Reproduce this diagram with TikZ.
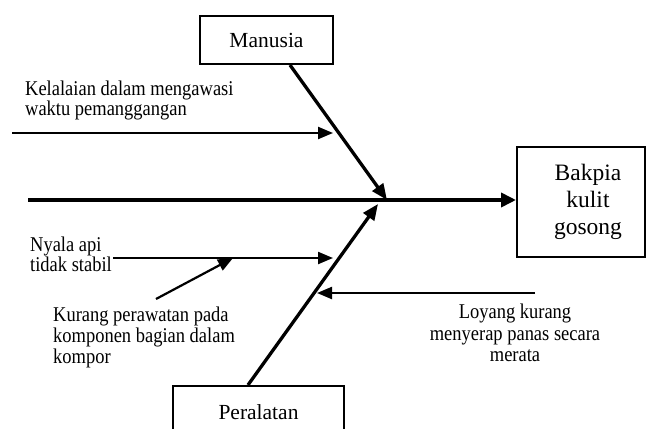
\documentclass[tikz,border=0pt]{standalone}
\usepackage{fontspec}
\setmainfont{Liberation Serif}
\newfontfamily\sempit{Liberation Serif}[FakeStretch=0.88]
\usetikzlibrary{arrows.meta,positioning}

\begin{document}
\begin{tikzpicture}[x=1pt,y=-1pt,
	kotak/.style={draw,line width=2pt,inner sep=0pt},
	tulang/.style={line width=3.3pt,-{Triangle[length=16pt,width=13pt]}},
	sebab/.style={line width=2.2pt,-{Triangle[length=15pt,width=12pt]}},
	teks/.style={inner sep=0pt,align=left}]
			\useasboundingbox (0,0) rectangle (647,428);
			\node[kotak,minimum width=133pt,minimum height=48pt,font=\fontsize{21.5}{24}\selectfont] (manusia) at (266.5,40) {Manusia};
			\node[kotak,minimum width=171pt,minimum height=52pt,font=\fontsize{21.5}{24}\selectfont] (peralatan) at (258.5,412) {Peralatan};
			\node[kotak,minimum width=128pt,minimum height=110pt,align=center,font=\fontsize{23.5}{27}\selectfont] (akibat) at (581,202) {\hspace*{14pt}Bakpia\\\hspace*{14pt}kulit\\\hspace*{14pt}gosong};
			\coordinate (ekor) at (28,200);
			\coordinate (kepala) at (387,200);
			\coordinate (kepalab) at (378,204);
			\draw[line width=3.6pt,-{Triangle[length=15pt,width=14pt]}] (ekor) -- (ekor -| akibat.west);
			\draw[tulang] ([xshift=23.5pt]manusia.south) -- (kepala);
			\draw[tulang] ([xshift=-10.5pt]peralatan.north) -- (kepalab);
			\node[teks,anchor=north west,font=\sempit\fontsize{21}{19}\selectfont] (kelalaian) at (25,81) {Kelalaian dalam mengawasi\\waktu pemanggangan};
			\node[teks,anchor=north west,font=\sempit\fontsize{21}{18.5}\selectfont] (nyala) at (30,237) {Nyala api\\tidak stabil};
			\node[teks,anchor=north west,font=\sempit\fontsize{21}{21}\selectfont] (kurang) at (53,307) {Kurang perawatan pada\\komponen bagian dalam\\kompor};
			\node[teks,anchor=north,align=center,font=\sempit\fontsize{21}{21.5}\selectfont] (loyang) at (515,304) {Loyang kurang\\menyerap panas secara\\merata};
			\foreach \a/\b/\c/\d in {12/133/333/133, 113/258/333/258, 156/299/233/258, 535/293/317/293}
			\draw[sebab] (\a,\b) -- (\c,\d);
		\end{tikzpicture}
\end{document}
